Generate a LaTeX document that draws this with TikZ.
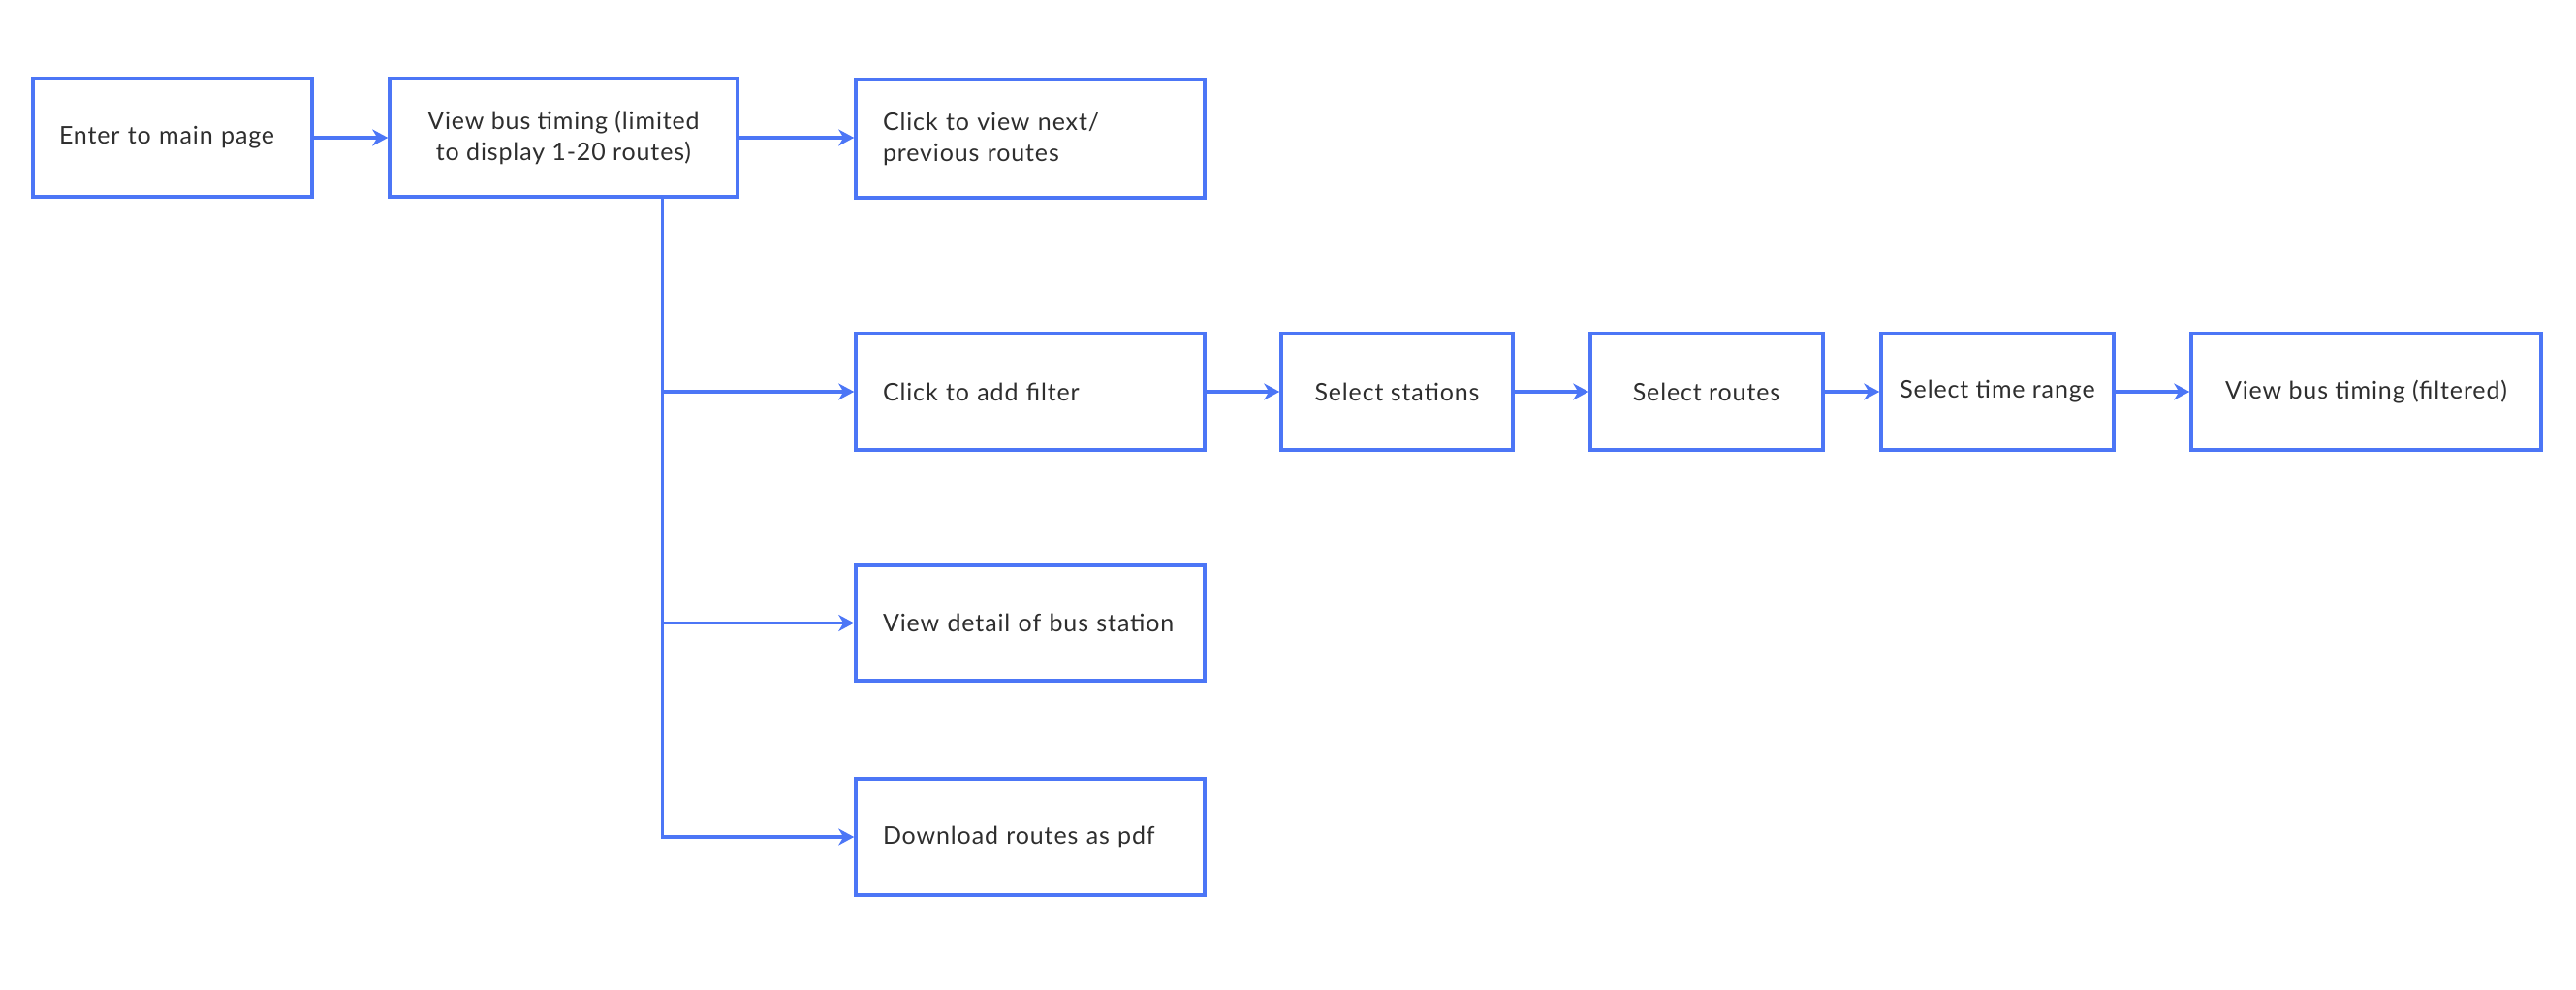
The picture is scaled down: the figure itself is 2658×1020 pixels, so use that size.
\documentclass[tikz,border=0pt]{standalone}
\usepackage{fontspec}
\setmainfont{Lato}[LetterSpace=3.5]
\usetikzlibrary{arrows.meta,calc}
\definecolor{flowblue}{HTML}{4C76F6}
\definecolor{txtgrey}{HTML}{2E2E2E}
\tikzset{
  box/.style={draw=flowblue, line width=3.5pt, rectangle, inner sep=0pt,
    font=\fontsize{25}{32}\selectfont, text=txtgrey, align=center},
  lbox/.style={box, align=left, inner xsep=28pt, text width=#1},
  conn/.style={draw=flowblue, line width=3.5pt,
    -{Stealth[length=16pt,width=17pt,inset=5pt]}},
}
\begin{document}
\begin{tikzpicture}[x=1pt,y=-1pt]
\useasboundingbox (0,0) rectangle (2658,1020);
% top row
\node[lbox=234pt, minimum width=288pt, minimum height=122pt, inner xsep=27pt] (b1) at (178,142) {Enter to main page};
\node[box, minimum width=359pt, minimum height=122pt] (b2) at (581.5,142) {View bus timing (limited\\to display 1-20 routes)};
\node[lbox=304pt, minimum width=360pt, minimum height=122pt] (b3) at (1063,143) {Click to view next/\\previous routes};
% filter row
\node[lbox=304pt, minimum width=360pt, minimum height=120pt] (b4) at (1063,404) {Click to add filter};
\node[box, minimum width=239pt, minimum height=120pt] (b5) at (1441.5,404) {Select stations};
\node[box, minimum width=240pt, minimum height=120pt] (b6) at (1761,404) {Select routes};
\node[box, minimum width=240pt, minimum height=120pt] (b7) at (2061,404) {Select time range};
\node[box, minimum width=361pt, minimum height=120pt] (b8) at (2441.5,404) {View bus timing (filtered)};
% lower boxes
\node[lbox=304pt, minimum width=360pt, minimum height=119pt] (b9) at (1063,642.5) {View detail of bus station};
\node[lbox=304pt, minimum width=360pt, minimum height=120pt] (b10) at (1063,863) {Download routes as pdf};
% connectors
\draw[conn] (b1.east) -- (b2.west);
\draw[conn] (b2.east) -- (b2.east -| b3.west);
\draw[conn] (b4.east) -- (b5.west);
\draw[conn] (b5.east) -- (b6.west);
\draw[conn] (b6.east) -- (b7.west);
\draw[conn] (b7.east) -- (b8.west);
\coordinate (t) at ($(b2.south west)+(283,0)$);
\draw[conn, line join=miter] (t) |- (b10.west);
\draw[conn] (t |- b4.west) -- (b4.west);
\draw[conn] (t |- b9.west) -- (b9.west);
\end{tikzpicture}
\end{document}
